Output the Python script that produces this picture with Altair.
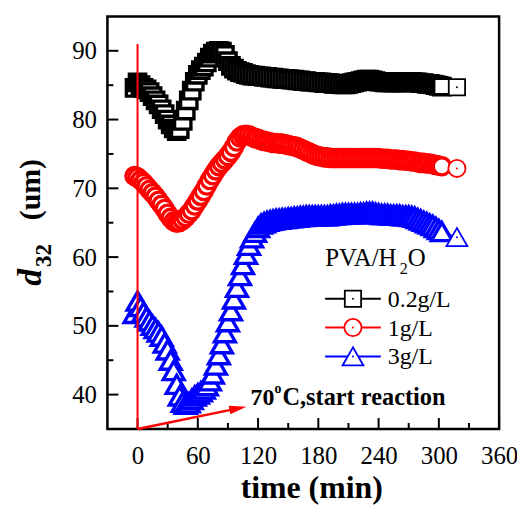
import altair as alt
import pandas as pd

# ---------------- data ----------------
times = list(range(-3, 304, 3)) + [318]

black = [
    84.6, 85.4, 85.0, 84.6, 84.4, 84.0, 83.4, 82.8, 82.2, 81.5,
    80.8, 80.0, 79.3, 78.7, 78.3, 78.6, 79.8, 81.3, 82.8, 84.2,
    85.5, 86.5, 87.2, 87.7, 88.3, 89.0, 89.6, 89.9, 90.0, 89.9,
    89.4, 88.5, 87.8, 87.4, 87.1, 86.9, 86.8, 86.6, 86.5, 86.4,
    86.4, 86.3, 86.3, 86.2, 86.2, 86.1, 86.1, 86.0, 86.0, 85.9,
    85.9, 85.9, 85.8, 85.8, 85.7, 85.7, 85.6, 85.6, 85.5, 85.5,
    85.5, 85.4, 85.4, 85.3, 85.3, 85.3, 85.2, 85.2, 85.2, 85.1,
    85.1, 85.2, 85.3, 85.4, 85.5, 85.6, 85.7, 85.8, 85.8, 85.7,
    85.6, 85.5, 85.5, 85.4, 85.4, 85.4, 85.4, 85.4, 85.4, 85.4,
    85.4, 85.5, 85.5, 85.4, 85.4, 85.3, 85.3, 85.2, 85.2, 85.1,
    85.0, 84.9, 84.8,
    84.7,
]
red = [
    71.8, 71.6, 71.2, 70.8, 70.3, 69.8, 69.3, 68.8, 68.2, 67.6,
    67.0, 66.3, 65.7, 65.2, 65.0, 65.1, 65.4, 65.8, 66.3, 66.8,
    67.5, 68.2, 68.9, 69.6, 70.4, 71.2, 71.9, 72.6, 73.2, 73.7,
    74.2, 74.7, 75.3, 76.0, 76.8, 77.4, 77.7, 77.8, 77.7, 77.5,
    77.3, 77.2, 77.0, 76.9, 76.8, 76.7, 76.6, 76.6, 76.5, 76.5,
    76.4, 76.3, 76.2, 76.1, 76.0, 75.8, 75.6, 75.4, 75.2, 75.0,
    74.8, 74.7, 74.6, 74.5, 74.5, 74.4, 74.4, 74.4, 74.4, 74.4,
    74.4, 74.4, 74.4, 74.4, 74.4, 74.4, 74.4, 74.4, 74.4, 74.4,
    74.4, 74.4, 74.3, 74.3, 74.3, 74.2, 74.2, 74.2, 74.1, 74.1,
    74.0, 74.0, 73.9, 73.9, 73.8, 73.7, 73.7, 73.6, 73.6, 73.5,
    73.4, 73.3, 73.2,
    72.9,
]
blue = [
    51.8, 53.6, 52.8, 52.0, 51.3, 50.7, 50.1, 49.6, 49.1, 48.5,
    47.5, 46.5, 45.0, 43.5, 41.5, 39.8, 38.9, 38.6, 38.8, 39.3,
    39.8, 40.1, 40.4, 40.8, 41.3, 42.0, 43.0, 44.3, 45.8, 47.4,
    49.0, 50.6, 52.2, 53.9, 55.6, 57.3, 58.9, 60.4, 61.7, 62.8,
    63.6, 64.3, 64.8, 65.0, 65.2, 65.3, 65.4, 65.5, 65.5, 65.6,
    65.6, 65.7, 65.7, 65.8, 65.8, 65.9, 65.9, 66.0, 66.0, 66.0,
    66.0, 66.0, 66.0, 66.0, 66.0, 66.1, 66.1, 66.2, 66.2, 66.3,
    66.3, 66.3, 66.3, 66.3, 66.3, 66.4, 66.4, 66.5, 66.5, 66.5,
    66.4, 66.3, 66.2, 66.2, 66.2, 66.1, 66.1, 66.1, 66.1, 66.0,
    66.0, 66.0, 65.9, 65.8, 65.6, 65.4, 65.2, 65.0, 64.8, 64.6,
    64.3, 64.0, 63.7,
    62.9,
]

series_names = ["0.2g/L", "1g/L", "3g/L"]
series_values = [black, red, blue]
colors = ["#000000", "#ff0000", "#0000ff"]
shapes = ["square", "circle", "triangle-up"]
sizes = [270, 300, 440]

x_major = [0, 60, 120, 180, 240, 300, 360]
x_minor = [30, 90, 150, 210, 270, 330]
y_major = [40, 50, 60, 70, 80, 90]
y_minor = [45, 55, 65, 75, 85]

W, H = 394, 415
FONT = "Liberation Serif"
T_END = times[-1]

xscale = alt.Scale(domain=[-30, 360], nice=False, zero=False)
yscale = alt.Scale(domain=[35, 95], nice=False, zero=False)

xaxis = alt.Axis(values=x_major, ticks=False, tickSize=0, domain=False, grid=False,
                 labelFont=FONT, labelFontSize=25, labelColor="black", labelPadding=15,
                 labelFlush=False, format="d",
                 title="time (min)", titleFont=FONT, titleFontSize=32, titleX=W / 2 + 8,
                 titleFontWeight="bold", titleColor="black", titlePadding=4)
yaxis = alt.Axis(values=y_major, ticks=False, tickSize=0, domain=False, grid=False,
                 labelFont=FONT, labelFontSize=25, labelColor="black", labelPadding=11,
                 labelFlush=False, format="d", title=None)

one = alt.Data(values=[{"a": 0}])

layers = []
for name, vals, col, shp, sz in zip(series_names, series_values, colors, shapes, sizes):
    df = pd.DataFrame({"t": times, "v": vals, "i": list(range(len(times)))})
    base = alt.Chart(df)
    layers.append(base.mark_line(color=col, strokeWidth=1.5).encode(
        x=alt.X("t:Q", scale=xscale, axis=xaxis),
        y=alt.Y("v:Q", scale=yscale, axis=yaxis),
        order="i:Q"))
    layers.append(base.transform_filter(alt.datum.t < T_END).mark_point(
        shape=shp, size=sz, filled=False, fill="white", fillOpacity=1, stroke=col,
        strokeWidth=3.4, opacity=1).encode(x="t:Q", y="v:Q"))
    layers.append(base.transform_filter(alt.datum.t == T_END).mark_point(
        shape=shp, size=sz, filled=False, fill="white", fillOpacity=1, stroke=col,
        strokeWidth=1.8, opacity=1).encode(x="t:Q", y="v:Q"))
    layers.append(base.transform_filter(alt.datum.t == T_END).mark_point(
        shape="circle", size=4, filled=True, color=col, opacity=1).encode(x="t:Q", y="v:Q"))

# ticks (inward)
def xticks(vals, ln):
    return alt.Chart(pd.DataFrame({"t": vals})).mark_rule(color="black", strokeWidth=2).encode(
        x="t:Q", y=alt.value(H), y2=alt.value(H - ln))

def yticks(vals, ln):
    return alt.Chart(pd.DataFrame({"v": vals})).mark_rule(color="black", strokeWidth=2).encode(
        y="v:Q", x=alt.value(0), x2=alt.value(ln))

layers += [xticks(x_major, 11), xticks(x_minor, 6), yticks(y_major, 11), yticks(y_minor, 6)]

# red start line and arrow
layers.append(alt.Chart(one).mark_rule(color="#ff0000", strokeWidth=2).encode(
    x=alt.datum(0), y=alt.datum(35), y2=alt.datum(91)))
layers.append(alt.Chart(one).mark_rule(color="#ff0000", strokeWidth=2.5).encode(
    x=alt.datum(0), y=alt.datum(35), x2=alt.datum(100), y2=alt.datum(38.0)))
layers.append(alt.Chart(one).mark_point(shape="M-1,-0.5L1,0L-1,0.5Z", size=300, filled=True,
                                        color="#ff0000", opacity=1, angle=349).encode(
    x=alt.datum(100), y=alt.datum(38.0)))

def txt(s, x, y, size, weight="normal", style="normal", angle=0, color="black", align="left"):
    return alt.Chart(one).mark_text(text=s, font=FONT, fontSize=size, fontWeight=weight,
                                    fontStyle=style, angle=angle, align=align,
                                    baseline="alphabetic", color=color).encode(
        x=alt.value(x), y=alt.value(y))

# annotation
layers.append(txt("70", 144, 391, 24, "bold"))
layers.append(txt("o", 168, 379, 14, "bold"))
layers.append(txt("C,start reaction", 176, 391, 24.5, "bold"))

# legend
layers.append(txt("PVA/H", 219, 251, 25))
layers.append(txt("2", 294, 259, 16))
layers.append(txt("O", 302, 251, 25))
rows = [284, 313, 342]
for name, col, shp, sz, ry in zip(series_names, colors, shapes, sizes, rows):
    layers.append(alt.Chart(one).mark_rule(color=col, strokeWidth=2).encode(
        x=alt.value(219), x2=alt.value(275), y=alt.value(ry)))
    layers.append(alt.Chart(one).mark_point(shape=shp, size=sz, filled=False, fill="white",
                                            fillOpacity=1, stroke=col, strokeWidth=1.8,
                                            opacity=1).encode(x=alt.value(247), y=alt.value(ry)))
    layers.append(alt.Chart(one).mark_point(shape="circle", size=4, filled=True, color=col,
                                            opacity=1).encode(x=alt.value(247), y=alt.value(ry)))
    layers.append(txt(name, 282, ry + 8, 24))

# y title: d_32 (um)
layers.append(txt("d", -67, 271, 34, "bold", "italic", angle=270))
layers.append(txt("32", -57, 252, 23, "bold", angle=270))
layers.append(txt("(um)", -68, 205, 30, "bold", angle=270))

chart = alt.layer(*layers).properties(
    width=W, height=H, autosize="none",
    padding={"left": 100, "top": 7, "right": 18, "bottom": 77},
).configure_view(stroke="black", strokeWidth=2.5)

chart.save("out.html", embed_options={"renderer": "svg", "actions": False})
